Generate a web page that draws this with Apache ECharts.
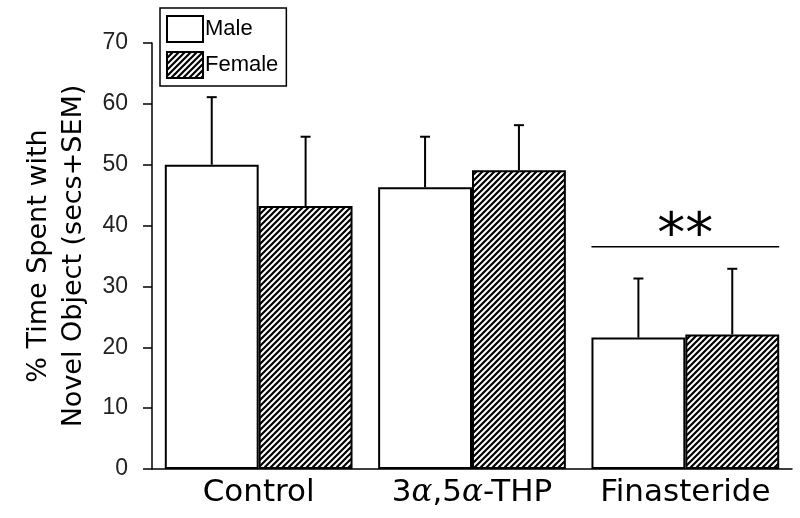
<!DOCTYPE html>
<html>
<head>
<meta charset="utf-8">
<script src="https://cdn.jsdelivr.net/npm/echarts@6/dist/echarts.min.js"></script>
<style>html,body{margin:0;padding:0;background:#fff}#c{width:800px;height:518px}</style>
</head>
<body>
<div id="c"></div>
<script>
var categories = ['Control', '3α,5α-THP', 'Finasteride'];
var maleMean = [50.0, 46.3, 21.6];
var maleSem = [11.1, 8.3, 9.7];
var femaleMean = [43.2, 49.1, 22.1];
var femaleSem = [11.4, 7.4, 10.8];
var yTickValues = [0, 10, 20, 30, 40, 50, 60, 70];
var sigCategoryIndex = 2;
var sigLineValue = 36.5;
var sigLabelValue = 38.0;
var sigLabel = '**';

var BAR_FRAC = 0.88;

function makeHatch() {
  var c = document.createElement('canvas');
  c.width = 6; c.height = 6;
  var g = c.getContext('2d');
  g.fillStyle = '#fff'; g.fillRect(0, 0, 6, 6);
  g.strokeStyle = '#000'; g.lineWidth = 2.2;
  g.beginPath();
  g.moveTo(-1, 7); g.lineTo(7, -1);
  g.moveTo(-4, 4); g.lineTo(4, -4);
  g.moveTo(2, 10); g.lineTo(10, 2);
  g.stroke();
  return c;
}
var hatch = makeHatch();

var errData = [];
for (var i = 0; i < categories.length; i++) {
  errData.push([i, maleMean[i], maleSem[i], -1]);
  errData.push([i, femaleMean[i], femaleSem[i], 1]);
}

var chart = echarts.init(document.getElementById('c'), null, {renderer: 'canvas'});
chart.setOption({
  animation: false,
  backgroundColor: '#fff',
  grid: {left: 152, right: 8, top: 43, bottom: 49, containLabel: false},
  legend: {
    data: ['Male', 'Female'],
    orient: 'vertical',
    left: 160, top: 8,
    borderColor: '#000', borderWidth: 1.5,
    padding: [7, 8, 7, 6],
    itemWidth: 36, itemHeight: 26, itemGap: 8,
    icon: 'rect',
    textStyle: {fontSize: 22, color: '#000', fontFamily: 'Liberation Sans', padding: [0, 0, 0, -3]}
  },
  xAxis: {
    type: 'category',
    data: categories,
    axisLine: {lineStyle: {color: '#000', width: 1.5}},
    axisTick: {show: false},
    axisLabel: {
      interval: 0,
      margin: 8,
      fontSize: 31, color: '#000', fontFamily: 'DejaVu Sans',
      formatter: function (v) { return v.replace(/α/g, '{a|α}'); },
      rich: {a: {fontSize: 31, fontStyle: 'italic', fontFamily: 'DejaVu Serif', color: '#000'}}
    }
  },
  yAxis: {
    type: 'value',
    min: yTickValues[0], max: yTickValues[yTickValues.length - 1], interval: 10,
    axisLine: {show: true, lineStyle: {color: '#000', width: 1.5}},
    axisTick: {show: true, inside: false, length: 9, lineStyle: {color: '#000', width: 1.5}},
    axisLabel: {margin: 24, fontSize: 23, color: '#222', fontFamily: 'Liberation Sans'},
    splitLine: {show: false},
    name: '% Time Spent with\nNovel Object (secs+SEM)',
    nameLocation: 'middle',
    nameRotate: 90,
    nameGap: 53,
    nameTextStyle: {fontSize: 27, color: '#000', fontFamily: 'DejaVu Sans', lineHeight: 35}
  },
  series: [
    {
      name: 'Male', type: 'bar', data: maleMean,
      barGap: '0%', barCategoryGap: '12%',
      itemStyle: {color: '#fff', borderColor: '#000', borderWidth: 2}
    },
    {
      name: 'Female', type: 'bar', data: femaleMean,
      barGap: '0%', barCategoryGap: '12%',
      itemStyle: {color: {image: hatch, repeat: 'repeat'}, borderColor: '#000', borderWidth: 2}
    },
    {
      type: 'custom', z: 5, silent: true,
      data: errData,
      renderItem: function (params, api) {
        var idx = api.value(0), v = api.value(1), s = api.value(2), side = api.value(3);
        var band = api.size([1, 0])[0];
        var bw = band * BAR_FRAC / 2;
        var cx = api.coord([idx, 0])[0] + side * bw / 2;
        var yb = api.coord([idx, v])[1];
        var yt = api.coord([idx, v + s])[1];
        var st = {stroke: '#000', lineWidth: 2};
        return {type: 'group', children: [
          {type: 'line', shape: {x1: cx, y1: yb, x2: cx, y2: yt}, style: st},
          {type: 'line', shape: {x1: cx - 5, y1: yt, x2: cx + 5, y2: yt}, style: st}
        ]};
      }
    },
    {
      type: 'custom', z: 5, silent: true,
      data: [[sigCategoryIndex, sigLineValue, sigLabelValue]],
      renderItem: function (params, api) {
        var idx = api.value(0);
        var band = api.size([1, 0])[0];
        var half = band * BAR_FRAC / 2;
        var cx = api.coord([idx, 0])[0];
        var yl = api.coord([idx, api.value(1)])[1];
        var yt = api.coord([idx, api.value(2)])[1];
        return {type: 'group', children: [
          {type: 'line', shape: {x1: cx - half, y1: yl, x2: cx + half, y2: yl}, style: {stroke: '#000', lineWidth: 1.5}},
          {type: 'text', x: cx, y: yt, style: {text: sigLabel, fill: '#000', font: '56px "DejaVu Sans"', align: 'center', verticalAlign: 'middle'}}
        ]};
      }
    }
  ]
});
</script>
</body>
</html>
